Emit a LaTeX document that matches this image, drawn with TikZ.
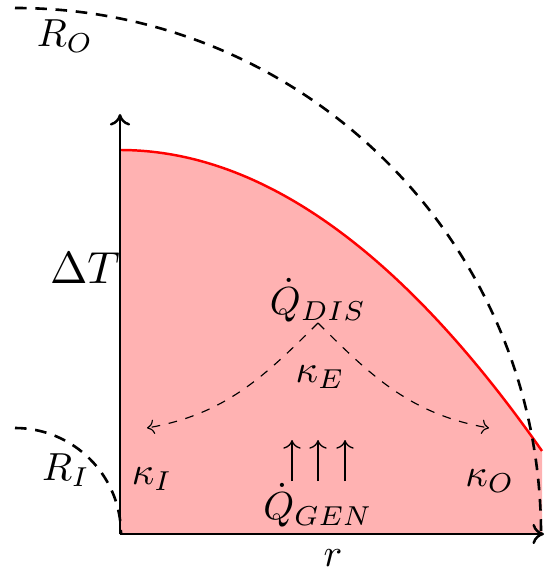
\documentclass[tikz,border=0pt]{standalone}
\usetikzlibrary{arrows.meta}
\begin{document}
\begin{tikzpicture}[x=0.345pt,y=-0.345pt,
  axis/.style={line width=0.85pt,-{To[length=4pt,width=7pt]}},
  bigdash/.style={line width=0.9pt,dash pattern=on 4pt off 3pt},
  flow/.style={line width=0.4pt,dash pattern=on 3pt off 3pt,-{To[length=2.5pt,width=5pt]}},
  gen/.style={line width=0.45pt,-{To[length=3pt,width=6pt]}},
  lab/.style={inner sep=0pt,scale=1.35}]
\useasboundingbox (0,0) rectangle (555,577);
% fill
\fill[red!30] (120,534) -- plot[domain=120:542,samples=80] (\x,{150+16.9*((\x-120)/100)^2}) -- (542,534) -- cycle;
\draw[red,line width=0.85pt] plot[domain=120:542,samples=80] (\x,{150+16.9*((\x-120)/100)^2});
% axes
\coordinate (O) at (120,534);
\coordinate (ytip) at (120,114);
\coordinate (xtip) at (544,534);
\draw[axis] (O) -- (ytip);
\draw[axis] (O) -- (xtip);
% radii arcs
\draw[bigdash] (15,8) arc[start angle=-90,end angle=0,radius=526];
\draw[bigdash] (15,428) arc[start angle=-90,end angle=0,radius=106];
% labels
\node[lab] (RO) at (65,36) {$R_O$};
\node[lab] (RI) at (66,470) {$R_I$};
\node[inner sep=0pt,scale=1.55] (DT) at (85,268) {$\Delta T$};
\node[lab] (qdis) at (318,300) {$\dot Q_{DIS}$};
\node[lab] (kE) at (320,377) {$\kappa_E$};
\node[lab] (kI) at (152,479) {$\kappa_I$};
\node[lab] (kO) at (490,481) {$\kappa_O$};
\node[lab] (qgen) at (318,505) {$\dot Q_{GEN}$};
\node[lab] (r) at (333,558) {$r$};
% flows
\coordinate (apex) at (318,323);
\coordinate (left) at (147,428);
\coordinate (right) at (489,428);
\draw[flow] (apex) to[out=-135,in=10] (left);
\draw[flow] (apex) to[out=-45,in=170] (right);
\foreach \xx/\nm in {292/a,318/b,345/c}{
  \coordinate (g\nm0) at (\xx,481);
  \coordinate (g\nm1) at (\xx,440);
  \draw[gen] (g\nm0) -- (g\nm1);
}
\end{tikzpicture}
\end{document}
